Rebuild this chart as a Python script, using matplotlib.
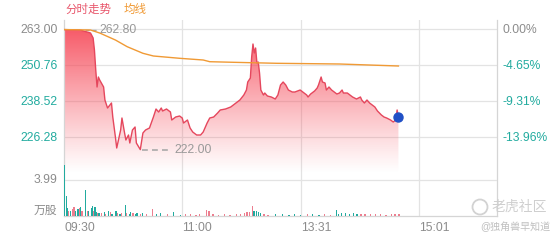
import matplotlib
matplotlib.use("Agg")
import matplotlib.pyplot as plt
import numpy as np
from matplotlib.patches import Ellipse

plt.rcParams['font.family'] = ['Liberation Sans', 'Noto Sans CJK SC', 'DejaVu Sans']

# ---------------- data ----------------
prev_close = 263.00
price_ticks = [263.00, 250.76, 238.52, 226.28]
time_ticks = [0, 90, 181, 271]
time_labels = ["09:30", "11:00", "13:31", "15:01"]

price_min = [0, 12, 20, 22, 23, 24, 25, 26, 27, 30, 31, 33, 36, 37, 39, 40, 43, 44, 46, 47,
             49, 50, 52, 54, 55, 58, 60, 62, 65, 68, 70, 72, 74, 75, 78, 81, 82, 85, 88, 90,
             91, 94, 96, 98, 101, 104, 106, 109, 111, 114, 117, 119, 123, 127, 130, 132, 134, 137, 139, 140,
             142, 143, 144, 145, 146, 147, 148, 149, 150, 152, 153, 155, 158, 161, 163, 165, 167, 169, 171, 174,
             176, 180, 182, 185, 186, 188, 191, 193, 194, 196, 197, 199, 200, 202, 204, 206, 208, 210, 212, 213,
             216, 218, 220, 223, 226, 227, 229, 231, 233, 235, 237, 239, 242, 244, 246, 249, 251, 253, 254, 255]
price_val = [262.80, 262.66, 261.64, 259.94, 255.86, 249.06, 243.28, 246.68, 245.66, 243.28,
             238.86, 236.14, 237.84, 233.08, 226.28, 222.54, 228.66, 232.74, 227.64, 225.26,
             226.96, 224.24, 228.66, 229.68, 224.24, 222.00, 227.64, 228.66, 229.34, 233.08,
             235.80, 234.78, 236.14, 235.12, 235.80, 234.78, 232.06, 233.08, 233.42, 232.74,
             231.04, 232.06, 229.34, 227.98, 226.96, 226.96, 227.98, 231.04, 232.74, 233.08,
             234.44, 235.46, 235.80, 236.48, 237.50, 238.18, 238.86, 240.56, 242.26, 244.98,
             246.34, 253.48, 257.90, 254.84, 256.54, 251.44, 251.78, 248.04, 242.26, 240.56,
             241.24, 240.22, 239.88, 239.20, 240.56, 243.96, 244.98, 243.96, 242.26, 241.58,
             241.58, 242.26, 241.58, 240.56, 239.88, 240.90, 241.92, 242.94, 243.96, 246.68,
             244.98, 244.64, 242.26, 243.28, 242.26, 241.58, 240.90, 241.24, 242.26, 241.24,
             241.24, 240.56, 239.88, 239.20, 239.88, 238.86, 237.84, 238.86, 237.84, 237.16,
             236.48, 235.12, 233.76, 233.08, 232.74, 232.06, 231.38, 232.06, 235.46, 233.08]

avg_min = [0, 20, 27, 39, 48, 60, 68, 88, 106, 111, 129, 162, 210, 255]
avg_val = [262.80, 262.66, 261.64, 259.26, 256.98, 254.74, 253.82, 253.04, 252.46, 251.88,
           251.68, 251.34, 251.10, 250.42]

high_label = 262.80
low_label = 222.00

vol_min = [0, 1, 2, 3, 4, 6, 7, 8, 10, 11, 12, 13, 16, 17, 18, 20, 21, 22, 23, 24,
           25, 26, 28, 30, 31, 33, 35, 36, 39, 40, 42, 43, 46, 47, 49, 50, 52, 54, 55, 58,
           59, 62, 67, 70, 73, 78, 83, 88, 92, 96, 100, 103, 108, 110, 113, 117, 122, 126, 131, 134,
           137, 139, 141, 143, 144, 145, 146, 148, 149, 152, 155, 161, 166, 171, 175, 180, 185, 189, 194, 198,
           203, 207, 209, 211, 214, 217, 220, 223, 226, 229, 233, 237, 241, 245, 249, 252, 255]
vol_val = [5.7, 2.2, 0.9, 0.5, 0.6, 0.8, 1.0, 0.5, 0.8, 0.9, 1.0, 0.5, 2.9, 0.6, 0.6, 0.9, 1.1, 0.6, 1.0, 0.4,
           0.3, 0.3, 0.3, 0.4, 0.2, 0.5, 0.4, 0.2, 0.5, 0.3, 0.2, 0.3, 1.2, 0.3, 0.2, 0.4, 0.3, 0.2, 0.3, 0.2,
           0.3, 0.2, 0.8, 0.2, 0.3, 0.2, 0.4, 0.1, 0.2, 0.2, 0.1, 0.2, 0.7, 0.5, 0.2, 0.1, 0.2, 0.15, 0.2, 0.2,
           0.3, 0.4, 0.4, 1.1, 0.6, 0.5, 0.6, 0.4, 0.3, 0.2, 0.1, 0.2, 0.2, 0.1, 0.2, 0.1, 0.2, 0.2, 0.1, 0.2,
           0.15, 0.7, 0.2, 0.3, 0.3, 0.2, 0.3, 0.2, 0.2, 0.2, 0.2, 0.2, 0.2, 0.15, 0.2, 0.2, 0.2]
vol_dir = ['d', 'd', 'd', 'u', 'd', 'u', 'u', 'd', 'd', 'u', 'd', 'u', 'd', 'u', 'd', 'd', 'd', 'u', 'd', 'd',
           'u', 'd', 'u', 'd', 'u', 'd', 'u', 'd', 'd', 'u', 'd', 'u', 'd', 'u', 'd', 'd', 'u', 'd', 'd', 'u',
           'd', 'u', 'u', 'd', 'd', 'u', 'd', 'd', 'u', 'u', 'u', 'u', 'u', 'u', 'u', 'u', 'u', 'u', 'u', 'u',
           'u', 'u', 'u', 'u', 'd', 'd', 'd', 'd', 'd', 'u', 'u', 'd', 'd', 'd', 'd', 'd', 'u', 'd', 'd', 'u',
           'u', 'd', 'd', 'd', 'd', 'd', 'd', 'd', 'u', 'u', 'u', 'u', 'u', 'u', 'u', 'u', 'u']
vol_tick = 3.99

# ---------------- styling ----------------
W, H = 560, 240
LINE_RED = '#e5475d'
AVG = '#f09a35'
TEAL = '#22ab9f'
PINK = '#ec7f90'
GRID = '#e3e3e3'
SPINE = '#d5d5d5'
GRAY = '#8c8c8c'

fig = plt.figure(figsize=(W / 100, H / 100), dpi=100)
fig.patch.set_facecolor('white')

px_left, px_right = 64.3, 496.7
px_top, px_bottom = 20, 216
ppx = 0.34  # price per pixel
ax = fig.add_axes([px_left / W, 1 - px_bottom / H, (px_right - px_left) / W, (px_bottom - px_top) / H])
y_top = prev_close + (29 - px_top) * ppx
y_bot = prev_close - (px_bottom - 29) * ppx
ax.set_xlim(0, 330)
ax.set_ylim(y_bot, y_top)

# volume axes overlay
ax_v = fig.add_axes([px_left / W, 1 - px_bottom / H, (px_right - px_left) / W, 72 / H])
ax_v.set_xlim(0, 330)
ax_v.set_ylim(0, 2 * vol_tick)
ax_v.patch.set_alpha(0)
for s in ax_v.spines.values():
    s.set_visible(False)
ax_v.set_xticks([])
ax_v.set_yticks([])

# grids
for p in price_ticks:
    ax.axhline(p, color=GRID, lw=0.9, zorder=0)
ax_v.axhline(vol_tick, color=GRID, lw=0.9, zorder=0)
for t in time_ticks[1:]:
    ax.axvline(t, color=GRID, lw=0.9, zorder=0)

for side in ['left', 'right', 'bottom']:
    ax.spines[side].set_color(SPINE)
    ax.spines[side].set_linewidth(0.9)
ax.spines['top'].set_visible(False)

# gradient fill under price line
pm = np.array(price_min, dtype=float)
pv = np.array(price_val, dtype=float)
fill = ax.fill_between(pm, pv, y_bot, color='none', lw=0)
grad_top, grad_bot = prev_close, 214.0
ny = 200
ys = np.linspace(y_top, y_bot, ny)
alpha = np.clip((ys - grad_bot) / (grad_top - grad_bot), 0, 1) ** 1.1 * 0.92
img = np.zeros((ny, 2, 4))
img[:, :, 0] = 0.965
img[:, :, 1] = 0.30
img[:, :, 2] = 0.36
img[:, :, 3] = alpha[:, None]
im = ax.imshow(img, extent=[0, 330, y_bot, y_top], aspect='auto', zorder=1, interpolation='bilinear')
path = fill.get_paths()[0]
im.set_clip_path(path, transform=ax.transData)
ax.set_xlim(0, 330)
ax.set_ylim(y_bot, y_top)

ax.plot(pm, pv, color=LINE_RED, lw=1.0, zorder=3)
ax.plot(avg_min, avg_val, color=AVG, lw=1.0, zorder=3)
ax.plot(pm[-1], pv[-1], 'o', color='#2150c6', ms=6.5, zorder=4)

# high / low annotations
ax.plot([16, 26], [high_label, high_label], color='#aaaaaa', lw=1.0, ls=(0, (3, 2)), zorder=2)
ax.text(26.5, high_label, f"{high_label:.2f}", color='#999999', fontsize=8.7, va='center', ha='left', zorder=5)
ax.plot([59, 81], [low_label, low_label], color='#aaaaaa', lw=1.2, ls=(0, (3.5, 2.5)), zorder=2)
ax.text(84, low_label, f"{low_label:.2f}", color='#999999', fontsize=8.7, va='center', ha='left', zorder=5)

# volume bars
vcol = [PINK if d == 'u' else TEAL for d in vol_dir]
ax_v.bar(vol_min, vol_val, width=0.9, color=vcol, align='edge', lw=0)

# left price ticks
ax.set_yticks(price_ticks)
ax.set_yticklabels([f"{p:.2f}" for p in price_ticks], fontsize=8.7)
for i, lab in enumerate(ax.get_yticklabels()):
    lab.set_color(GRAY if i == 0 else TEAL)
ax.tick_params(axis='y', length=0, pad=5)

# right percentage ticks
ax2 = ax.twinx()
ax2.set_ylim(y_bot, y_top)
ax2.set_yticks(price_ticks)
ax2.set_yticklabels([f"{(p / prev_close - 1) * 100:.2f}%" for p in price_ticks], fontsize=8.7)
for i, lab in enumerate(ax2.get_yticklabels()):
    lab.set_color(GRAY if i == 0 else TEAL)
ax2.tick_params(axis='y', length=0, pad=4)
for s in ax2.spines.values():
    s.set_visible(False)

# x ticks
ax.set_xticks(time_ticks)
ax.set_xticklabels(time_labels, fontsize=8.7, color=GRAY, ha='left')
ax.tick_params(axis='x', length=0, pad=4)

# volume labels
ax_v.text(-0.016, vol_tick, f"{vol_tick:.2f}", transform=ax_v.get_yaxis_transform(), ha='right', va='center',
          fontsize=8.7, color=GRAY)
ax_v.text(-0.016, 0.55, "万股", transform=ax_v.get_yaxis_transform(), ha='right', va='center',
          fontsize=8.5, color=GRAY)

# header
fig.text(65 / W, 1 - 10 / H, "分时走势", color='#e8566b', fontsize=8.3, va='center', ha='left')
fig.text(124 / W, 1 - 10 / H, "均线", color=AVG, fontsize=8.3, va='center', ha='left')

# watermark
fig.add_artist(Ellipse((480 / W, 1 - 207 / H), 15 / W, 15 / H, fill=False, ec='#d2d2d2', lw=1.3))
fig.text(492 / W, 1 - 207 / H, "老虎社区", color='#cfcfcf', fontsize=10, va='center', ha='left')
fig.text(550 / W, 1 - 227 / H, "@独角兽早知道", color='#c0c0c0', fontsize=7.2, va='center', ha='right')

fig.savefig("out.png", dpi=100, facecolor='white')
